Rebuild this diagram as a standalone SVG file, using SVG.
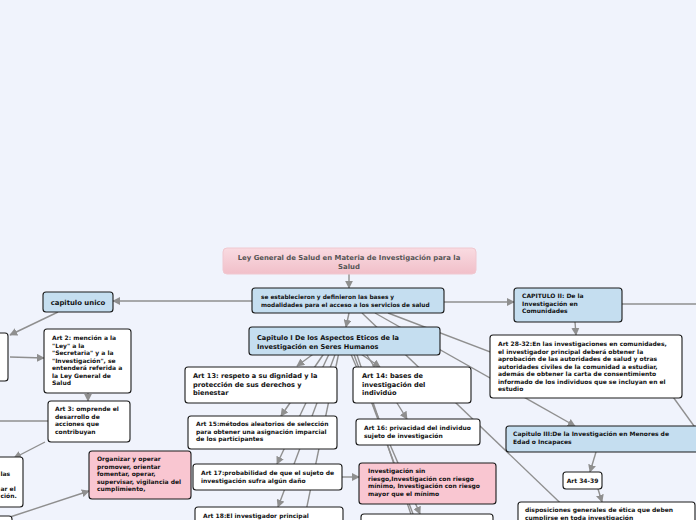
<svg xmlns="http://www.w3.org/2000/svg" width="696" height="520" viewBox="0 0 696 520">
<defs>
<style>
.t{font-family:"DejaVu Sans",Verdana,sans-serif;font-weight:bold;fill:#111}
.s{font-size:6px}
.m{font-size:6.6px}
.w{fill:#ffffff;stroke:#1a1a1a;stroke-width:1.1}
.b{fill:#c5def0;stroke:#1a1a1a;stroke-width:1.1}
.p{fill:#f9c6d1;stroke:#1a1a1a;stroke-width:1.1}
.c{fill:none;stroke:#8f8f8f;stroke-width:1.4}
.a{marker-end:url(#ah)}
</style>
<linearGradient id="rg" x1="0" y1="0" x2="0" y2="1">
<stop offset="0" stop-color="#f9dbe1"/>
<stop offset="1" stop-color="#f1bfc9"/>
</linearGradient>
<marker id="ah" viewBox="0 0 10 10" refX="9" refY="5" markerWidth="8" markerHeight="8" markerUnits="userSpaceOnUse" orient="auto">
<path d="M0,0 L10,5 L0,10 z" fill="#8f8f8f"/>
</marker>
</defs>
<rect width="696" height="520" fill="#f0f3fc"/>
<g id="connectors">
<path class="c a" d="M349,274 L349,288"/>
<path class="c a" d="M252,301 L113,301"/>
<path class="c a" d="M444,302 L514,302"/>
<path class="c" d="M622,304 L696,304"/>
<path class="c a" d="M349,313 L346,327"/>
<path class="c a" d="M575,322 L576,335"/>
<path class="c" d="M388,313 L600,394"/>
<path class="c a" d="M375,313 L575,426"/>
<path class="c" d="M362,313 L600,541"/>
<path class="c" d="M650,365 L702,437"/>
<path class="c a" d="M316,352 L297,366"/>
<path class="c a" d="M325,352 L281,416"/>
<path class="c a" d="M330,352 L277,464"/>
<path class="c a" d="M336,352 L278,507"/>
<path class="c" d="M339,352 L300,540"/>
<path class="c a" d="M358,352 L380,367"/>
<path class="c a" d="M365,352 L407,419"/>
<path class="c a" d="M350,352 L420,514"/>
<path class="c" d="M353,352 L430,560"/>
<path class="c" d="M356,352 L440,600"/>
<path class="c a" d="M58,312 L10,335"/>
<path class="c a" d="M10,357 L44,358"/>
<path class="c a" d="M88,393 L88,401"/>
<path class="c" d="M0,421 L48,421"/>
<path class="c a" d="M45,442 L14,458"/>
<path class="c a" d="M10,517 L89,491"/>
<path class="c a" d="M342,477 L359,477"/>
<path class="c a" d="M596,452 L590,472"/>
<path class="c a" d="M598,489 L602,502"/>
</g>
<g id="root">
<rect x="223" y="248" width="253" height="26" rx="4" fill="url(#rg)" stroke="#f0c8d0" stroke-width="1"/>
<text class="t" style="font-size:6.9px;fill:#555" text-anchor="middle"><tspan x="349" y="260">Ley General de Salud en Materia de Investigación para la</tspan><tspan x="349" y="269">Salud</tspan></text>
</g>
<g id="se-establecieron">
<rect class="b" x="252" y="288" width="192" height="25" rx="3"/>
<text class="t" style="font-size:5.8px"><tspan x="261" y="299">se establecieron y definieron las bases y</tspan><tspan x="261" y="307">modalidades para el acceso a los servicios de salud</tspan></text>
</g>
<g id="capitulo-unico">
<rect class="b" x="43" y="292" width="70" height="20" rx="3"/>
<text class="t" style="font-size:6.9px" x="78" y="305" text-anchor="middle">capitulo unico</text>
</g>
<g id="left-box-1">
<rect class="w" x="-10" y="333" width="18" height="48" rx="3"/>
</g>
<g id="art2">
<rect class="w" x="44" y="329" width="87" height="64" rx="3"/>
<text class="t s"><tspan x="52" y="340">Art 2:  mención a la</tspan><tspan x="52" y="347.5">"Ley" a la</tspan><tspan x="52" y="355">"Secretaria" y a la</tspan><tspan x="52" y="362.5">"Investigación", se</tspan><tspan x="52" y="370">entenderá referida a</tspan><tspan x="52" y="377.5">la Ley General de</tspan><tspan x="52" y="385">Salud</tspan></text>
</g>
<g id="art3">
<rect class="w" x="48" y="401" width="82" height="41" rx="3"/>
<text class="t s"><tspan x="55" y="411">Art 3: omprende el</tspan><tspan x="55" y="418.5">desarrollo de</tspan><tspan x="55" y="426">acciones que</tspan><tspan x="55" y="433.5">contribuyan</tspan></text>
</g>
<g id="left-box-2">
<rect class="w" x="-10" y="457" width="33" height="50" rx="3"/>
<text class="t s"><tspan x="0.5" y="476">las</tspan><tspan x="0.5" y="491">ar el</tspan><tspan x="0.5" y="498">ción.</tspan></text>
</g>
<g id="left-box-3">
<rect class="w" x="-10" y="516" width="22" height="20" rx="3"/>
</g>
<g id="organizar">
<rect class="p" x="89" y="451" width="102" height="48" rx="3"/>
<text class="t s"><tspan x="97" y="461">Organizar y operar</tspan><tspan x="97" y="468.5">promover, orientar</tspan><tspan x="97" y="476">fomentar, operar,</tspan><tspan x="97" y="483.5">supervisar, vigilancia del</tspan><tspan x="97" y="491">cumplimiento,</tspan></text>
</g>
<g id="capitulo-1">
<rect class="b" x="249" y="327" width="191" height="28" rx="3"/>
<text class="t m"><tspan x="257" y="340">Capitulo I De los Aspectos Eticos de la</tspan><tspan x="257" y="349">Investigación en Seres Humanos</tspan></text>
</g>
<g id="art13">
<rect class="w" x="185" y="367" width="152" height="36" rx="3"/>
<text class="t m"><tspan x="193" y="378">Art 13: respeto a su dignidad y la</tspan><tspan x="193" y="386.5">protección de sus derechos y</tspan><tspan x="193" y="395">bienestar</tspan></text>
</g>
<g id="art15">
<rect class="w" x="188" y="416" width="149" height="33" rx="3"/>
<text class="t s"><tspan x="196" y="426">Art 15:métodos aleatorios de selección</tspan><tspan x="196" y="433.5">para obtener una asignación imparcial</tspan><tspan x="196" y="441">de los participantes</tspan></text>
</g>
<g id="art17">
<rect class="w" x="193" y="464" width="149" height="26" rx="3"/>
<text class="t s"><tspan x="201" y="475">Art 17:probabilidad de que el sujeto de</tspan><tspan x="201" y="482.5">investigación sufra algún daño</tspan></text>
</g>
<g id="art18">
<rect class="w" x="195" y="507" width="148" height="30" rx="3"/>
<text class="t s" x="203" y="518">Art 18:El investigador principal</text>
</g>
<g id="art14">
<rect class="w" x="353" y="367" width="118" height="36" rx="3"/>
<text class="t m"><tspan x="362" y="378">Art 14: bases de</tspan><tspan x="362" y="386.5">investigación del</tspan><tspan x="362" y="395">individúo</tspan></text>
</g>
<g id="art16">
<rect class="w" x="356" y="419" width="124" height="26" rx="3"/>
<text class="t s"><tspan x="364" y="430">Art 16: privacidad del individuo</tspan><tspan x="364" y="437.5">sujeto de investigación</tspan></text>
</g>
<g id="riesgo">
<rect class="p" x="359" y="463" width="137" height="41" rx="3"/>
<text class="t s"><tspan x="368" y="473">Investigación sin</tspan><tspan x="368" y="480.5">riesgo,Investigación con riesgo</tspan><tspan x="368" y="488">mínimo, Investigación con riesgo</tspan><tspan x="368" y="495.5">mayor que el mínimo</tspan></text>
</g>
<g id="box-below-riesgo">
<rect class="w" x="361" y="514" width="132" height="20" rx="3"/>
</g>
<g id="capitulo-2">
<rect class="b" x="514" y="288" width="108" height="34" rx="3"/>
<text class="t s"><tspan x="522" y="298">CAPITULO II: De la</tspan><tspan x="522" y="305.5">Investigación en</tspan><tspan x="522" y="313">Comunidades</tspan></text>
</g>
<g id="art28-32">
<rect class="w" x="490" y="335" width="192" height="63" rx="3"/>
<text class="t s"><tspan x="498" y="346">Art 28-32:En las investigaciones en comunidades,</tspan><tspan x="498" y="353.5">el investigador principal deberá obtener la</tspan><tspan x="498" y="361">aprobación de las autoridades de salud y otras</tspan><tspan x="498" y="368.5">autoridades civiles de la comunidad a estudiar,</tspan><tspan x="498" y="376">además de obtener la carta de consentimiento</tspan><tspan x="498" y="383.5">informado de los individuos que se incluyan en el</tspan><tspan x="498" y="391">estudio</tspan></text>
</g>
<g id="capitulo-3">
<rect class="b" x="506" y="426" width="196" height="26" rx="3"/>
<text class="t s"><tspan x="513" y="436">Capitulo III:De la Investigación en Menores de</tspan><tspan x="513" y="443.5">Edad o Incapaces</tspan></text>
</g>
<g id="art34-39">
<rect class="w" x="563" y="472" width="39" height="17" rx="3"/>
<text class="t s" x="582.5" y="483" text-anchor="middle">Art 34-39</text>
</g>
<g id="disposiciones">
<rect class="w" x="518" y="502" width="177" height="30" rx="3"/>
<text class="t s"><tspan x="525" y="512">disposiciones generales de ética que deben</tspan><tspan x="525" y="519.5">cumplirse en toda investigación</tspan></text>
</g>
</svg>
